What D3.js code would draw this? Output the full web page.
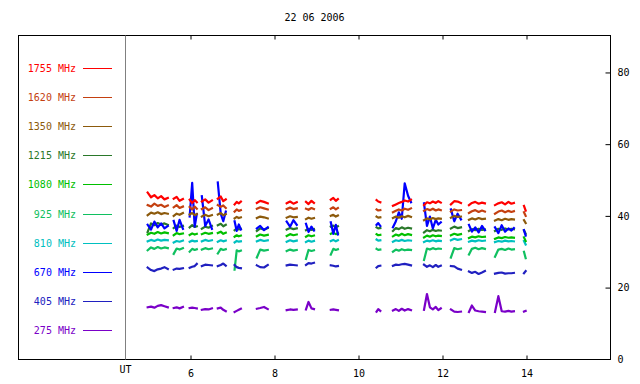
<!DOCTYPE html>
<html><head><meta charset="utf-8">
<script src="https://cdn.jsdelivr.net/npm/d3@7"></script>
<style>
body{margin:0;background:#fff;}
svg{display:block;}
text{font-family:"DejaVu Sans Mono",monospace;font-size:10px;}
</style></head>
<body>
<svg id="c" width="640" height="384"></svg>
<script>
const title = "22 06 2006";
const xTicks = [6, 8, 10, 12, 14];
const yTicks = [0, 20, 40, 60, 80];
const labels = ["1755 MHz","1620 MHz","1350 MHz","1215 MHz","1080 MHz","925 MHz","810 MHz","670 MHz","405 MHz","275 MHz"];
const colors = ["#ff0000","#c44010","#8c5a0c","#2a782a","#00c000","#10c060","#00c0c0","#0000ff","#2020c0","#7a00c8"];

const times = [
 4.98,5.06,5.14,5.22,5.30,5.38,5.46,
 5.60,5.67,5.74,5.82,
 5.98,6.04,6.10,6.15,
 6.27,6.35,6.43,6.51,
 6.65,6.72,6.78,6.84,
 7.05,7.10,7.15,7.20,
 7.58,7.66,7.75,7.84,
 8.29,8.37,8.45,8.53,
 8.75,8.81,8.88,8.94,
 9.34,9.40,9.46,9.51,
 10.43,10.47,10.52,
 10.82,10.89,10.96,11.03,11.10,11.18,11.25,
 11.56,11.63,11.70,11.77,11.84,11.90,11.96,
 12.20,12.28,12.36,12.44,
 12.63,12.70,12.78,12.86,12.94,13.01,
 13.25,13.33,13.41,13.49,13.57,13.64,13.70,
 13.94,13.98];

const f1755 = [
 46.5,45.2,45.8,44.9,45.5,44.6,45.0,
 44.8,45.3,44.2,44.7,
 44.5,43.6,44.4,43.8,
 44.0,44.6,43.7,44.3,
 44.8,45.4,44.1,44.6,
 43.2,43.9,43.5,44.0,
 43.6,44.2,43.9,43.5,
 43.5,44.0,43.4,43.8,
 43.9,43.3,44.2,43.6,
 44.5,45.0,44.2,44.7,
 44.4,44.0,43.8,
 42.8,43.2,43.6,43.9,44.3,44.0,44.5,
 43.0,43.8,43.5,44.0,43.6,44.1,43.7,
 43.2,44.1,44.0,43.6,
 43.0,43.6,43.9,43.4,43.7,43.5,
 43.0,43.5,43.8,43.2,43.9,43.4,43.6,
 42.8,41.5];
const f1620 = [
 43.0,42.6,43.4,42.8,43.1,42.5,42.9,
 42.4,43.0,42.2,42.6,
 42.5,41.8,42.6,42.0,
 41.9,42.4,41.6,42.1,
 43.0,42.5,42.9,42.2,
 41.2,41.8,41.4,41.6,
 42.0,42.4,42.1,41.8,
 41.9,42.3,41.9,42.1,
 42.0,41.7,42.2,41.9,
 42.0,42.4,41.8,42.2,
 41.8,41.5,41.6,
 41.0,41.4,41.8,41.5,42.0,41.7,42.1,
 41.4,41.9,41.6,42.0,41.5,41.8,41.6,
 41.2,41.8,41.5,41.6,
 40.8,41.3,41.6,41.1,41.5,41.2,
 40.6,41.2,41.5,41.0,41.4,41.1,41.3,
 41.0,40.0];
const f1350 = [
 40.2,40.9,40.6,41.0,40.5,40.8,40.6,
 40.0,40.6,40.3,40.8,
 40.4,40.8,40.2,40.5,
 39.8,40.3,39.9,40.2,
 40.4,40.8,40.2,40.5,
 39.3,39.7,39.4,39.6,
 39.4,39.8,39.6,39.3,
 39.5,39.9,39.6,39.7,
 39.1,39.5,39.2,39.4,
 40.0,40.3,39.8,40.1,
 39.8,39.5,39.6,
 39.4,39.8,39.5,39.9,39.6,40.0,39.7,
 38.8,39.3,39.0,39.4,39.1,39.3,39.2,
 39.5,40.0,39.7,39.8,
 38.9,39.3,39.0,39.4,39.1,39.2,
 38.7,39.1,38.8,39.2,38.9,39.1,39.0,
 38.8,38.0];
const f1215 = [
 35.5,37.9,37.4,38.0,37.6,37.9,37.5,
 36.6,37.3,36.9,37.2,
 36.8,37.4,36.9,37.1,
 36.4,37.0,36.7,37.2,
 37.4,37.8,37.1,37.5,
 36.0,36.5,36.2,36.4,
 35.8,36.5,36.2,36.6,
 36.2,36.6,36.3,36.5,
 36.0,36.4,36.1,36.3,
 37.0,37.3,36.8,37.1,
 36.8,36.5,36.6,
 35.8,36.6,36.3,36.8,36.4,36.7,36.5,
 35.4,36.0,35.7,36.1,35.8,36.0,35.9,
 36.5,37.0,36.6,36.8,
 35.8,36.3,36.0,36.4,36.1,36.2,
 35.8,36.4,36.1,36.5,36.2,36.4,36.3,
 36.0,35.0];
const f1080 = [
 34.8,35.3,35.0,35.5,35.1,35.4,35.2,
 34.6,35.2,34.9,35.1,
 34.7,35.1,34.8,35.0,
 34.9,35.3,35.0,35.2,
 35.2,35.6,35.0,35.3,
 34.2,34.6,34.3,34.5,
 34.3,34.8,34.5,34.7,
 34.4,34.9,34.6,34.8,
 34.2,34.6,34.3,34.5,
 35.0,35.3,34.9,35.2,
 34.9,34.6,34.7,
 34.3,34.8,34.5,35.0,34.6,34.9,34.7,
 34.0,34.5,34.2,34.6,34.3,34.5,34.4,
 34.6,35.0,34.7,34.9,
 33.8,34.2,34.0,34.3,34.1,34.2,
 33.6,34.0,33.8,34.1,33.9,34.0,33.9,
 34.0,33.0];
const f925 = [
 30.4,31.2,30.8,31.3,30.9,31.2,31.0,
 29.4,30.9,30.6,31.0,
 30.0,30.8,30.5,30.7,
 30.6,31.0,30.7,30.9,
 29.5,30.8,30.5,30.7,
 25.0,30.4,30.1,30.3,
 28.4,30.6,30.3,30.5,
 30.2,30.6,30.3,30.5,
 28.0,30.5,30.2,30.4,
 29.2,30.8,30.5,30.7,
 30.8,30.5,30.6,
 30.0,30.6,30.3,30.7,30.4,30.6,30.5,
 27.7,30.9,30.6,31.0,30.7,30.9,30.8,
 28.4,31.0,30.7,30.9,
 29.2,30.8,31.1,30.7,31.0,30.8,
 28.6,30.6,30.8,30.5,30.9,30.6,30.7,
 30.0,28.2];
const f810 = [
 32.9,33.3,33.0,33.4,33.1,33.3,33.2,
 32.6,33.0,32.8,33.1,
 32.8,33.1,32.9,33.0,
 32.9,33.3,33.0,33.2,
 32.8,33.2,32.9,33.1,
 32.6,33.0,32.8,32.9,
 32.9,33.3,33.0,33.2,
 32.8,33.2,32.9,33.1,
 32.7,33.1,32.8,33.0,
 33.0,33.3,32.9,33.2,
 33.4,33.1,33.2,
 32.8,33.2,33.0,33.3,33.0,33.2,33.1,
 32.7,33.1,32.9,33.2,32.9,33.1,33.0,
 33.2,33.6,33.3,33.5,
 32.8,33.1,32.9,33.2,33.0,33.1,
 32.7,33.0,32.8,33.1,32.9,33.0,32.9,
 33.0,32.0];
const f670 = [
 37.5,36.2,38.4,36.8,37.9,36.5,37.2,
 38.6,35.8,38.9,36.4,
 39.8,49.2,37.0,40.5,
 45.5,37.2,39.0,36.4,
 49.3,40.6,38.5,41.2,
 38.5,35.8,37.6,36.2,
 36.5,37.2,36.0,36.8,
 38.4,37.0,38.8,37.5,
 37.8,35.5,37.0,35.9,
 38.2,35.0,37.5,34.8,
 37.5,38.0,37.2,
 36.8,38.5,41.0,39.2,49.1,45.6,43.8,
 43.5,37.2,39.8,36.5,38.9,37.6,38.2,
 41.8,38.5,40.6,39.0,
 37.5,35.6,36.8,35.4,37.2,36.0,
 36.8,35.2,37.4,35.6,36.5,35.9,36.6,
 36.0,34.5];
const f405 = [
 25.6,24.9,24.6,25.1,25.3,25.7,25.2,
 25.0,25.3,25.2,25.4,
 25.5,25.8,26.0,26.6,
 26.0,26.4,26.3,26.2,
 26.0,26.3,26.7,26.1,
 26.3,25.7,25.5,25.4,
 26.2,25.7,25.6,26.3,
 26.2,26.4,26.3,26.2,
 26.3,26.8,26.7,26.9,
 26.2,26.1,25.9,26.0,
 25.6,26.0,26.1,
 26.1,26.4,26.3,26.5,26.6,26.4,26.2,
 26.4,25.8,26.2,25.7,26.3,25.8,26.1,
 26.0,25.9,25.3,25.0,
 24.5,24.1,24.4,23.8,24.2,24.6,
 23.9,24.1,24.2,23.9,24.0,24.0,24.1,
 24.0,24.6];
const f275 = [
 14.5,14.7,14.4,14.9,15.1,14.8,14.5,
 14.3,14.5,14.2,14.6,
 14.3,14.4,14.3,14.2,
 13.8,14.0,13.9,14.2,
 14.2,14.4,13.8,13.4,
 13.2,13.5,13.8,14.1,
 14.1,14.3,14.6,14.0,
 13.7,13.9,13.8,13.9,
 13.9,16.0,14.2,14.0,
 13.8,13.9,13.8,13.7,
 13.3,14.0,13.5,
 13.6,14.0,13.5,14.1,13.6,14.0,13.7,
 13.8,18.2,14.5,13.9,14.6,13.7,14.2,
 13.9,13.3,13.2,13.3,
 13.2,15.0,13.6,13.4,13.3,13.2,
 13.2,17.6,13.4,13.3,13.5,13.3,13.4,
 13.3,13.5];

const seriesVals = [f1755,f1620,f1350,f1215,f1080,f925,f810,f670,f405,f275];
const drawOrder = [5,6,4,3,7,2,1,0,8,9];

const svg = d3.select("#c");
const L = 18.5, R = 610.5, T = 35.5, B = 359.5, UTx = 125.5;

const x = d3.scaleLinear().domain([6,14]).range([190.5,526.5]);
const y = d3.scaleLinear().domain([0,90]).range([359.3,36.6]);

svg.append("text").attr("x",(L+R)/2).attr("y",21).attr("text-anchor","middle").attr("fill","#000").text(title);

svg.append("rect").attr("x",L).attr("y",T).attr("width",R-L).attr("height",B-T)
  .attr("fill","none").attr("stroke","#000").attr("stroke-width",1);
svg.append("line").attr("x1",UTx).attr("x2",UTx).attr("y1",T).attr("y2",B).attr("stroke","#808080");

const gb = svg.append("g").attr("transform",`translate(0,${B})`)
  .call(d3.axisBottom(x).tickValues(xTicks).tickSize(-4).tickPadding(10).tickFormat(d3.format("d")));
gb.select(".domain").remove();
gb.selectAll("line").attr("stroke","#000");
gb.selectAll("text").attr("font-family","DejaVu Sans Mono").attr("font-size",10).attr("fill","#000");
const gt = svg.append("g").attr("transform",`translate(0,${T})`)
  .call(d3.axisTop(x).tickValues(xTicks).tickSize(-4).tickFormat(""));
gt.select(".domain").remove();
gt.selectAll("line").attr("stroke","#000");
const gr = svg.append("g").attr("transform",`translate(${R},0)`)
  .call(d3.axisRight(y).tickValues(yTicks).tickSize(-5).tickPadding(7).tickFormat(d3.format("d")));
gr.select(".domain").remove();
gr.selectAll("line").attr("stroke","#000");
gr.selectAll(".tick").filter(d=>d===0).select("line").remove();
gr.selectAll("text").attr("font-family","DejaVu Sans Mono").attr("font-size",10).attr("fill","#000");

svg.append("text").attr("x",UTx).attr("y",373).attr("text-anchor","middle").attr("fill","#000").text("UT");

labels.forEach((lab,i)=>{
  const ly = Math.round(67.5 + 29.2*i) + 0.5;
  svg.append("text").attr("x",76).attr("y",ly+3.5).attr("text-anchor","end").attr("fill",colors[i]).text(lab);
  svg.append("line").attr("x1",83).attr("x2",112).attr("y1",ly).attr("y2",ly).attr("stroke",colors[i]).attr("stroke-width",1);
});

function segments(vals){
  const segs=[]; let cur=[];
  times.forEach((t,i)=>{
    if(i>0 && t - times[i-1] > 0.1){ segs.push(cur); cur=[]; }
    cur.push([t, vals[i]]);
  });
  segs.push(cur);
  return segs;
}
const line = d3.line().x(d=>x(d[0])).y(d=>y(d[1])).curve(d3.curveLinear);
drawOrder.forEach(si=>{
  const g = svg.append("g");
  segments(seriesVals[si]).forEach(seg=>{
    g.append("path").attr("d",line(seg)).attr("fill","none")
      .attr("stroke",colors[si]).attr("stroke-width",2.2).attr("stroke-linejoin","round").attr("stroke-linecap","square");
  });
});
</script>
</body></html>
